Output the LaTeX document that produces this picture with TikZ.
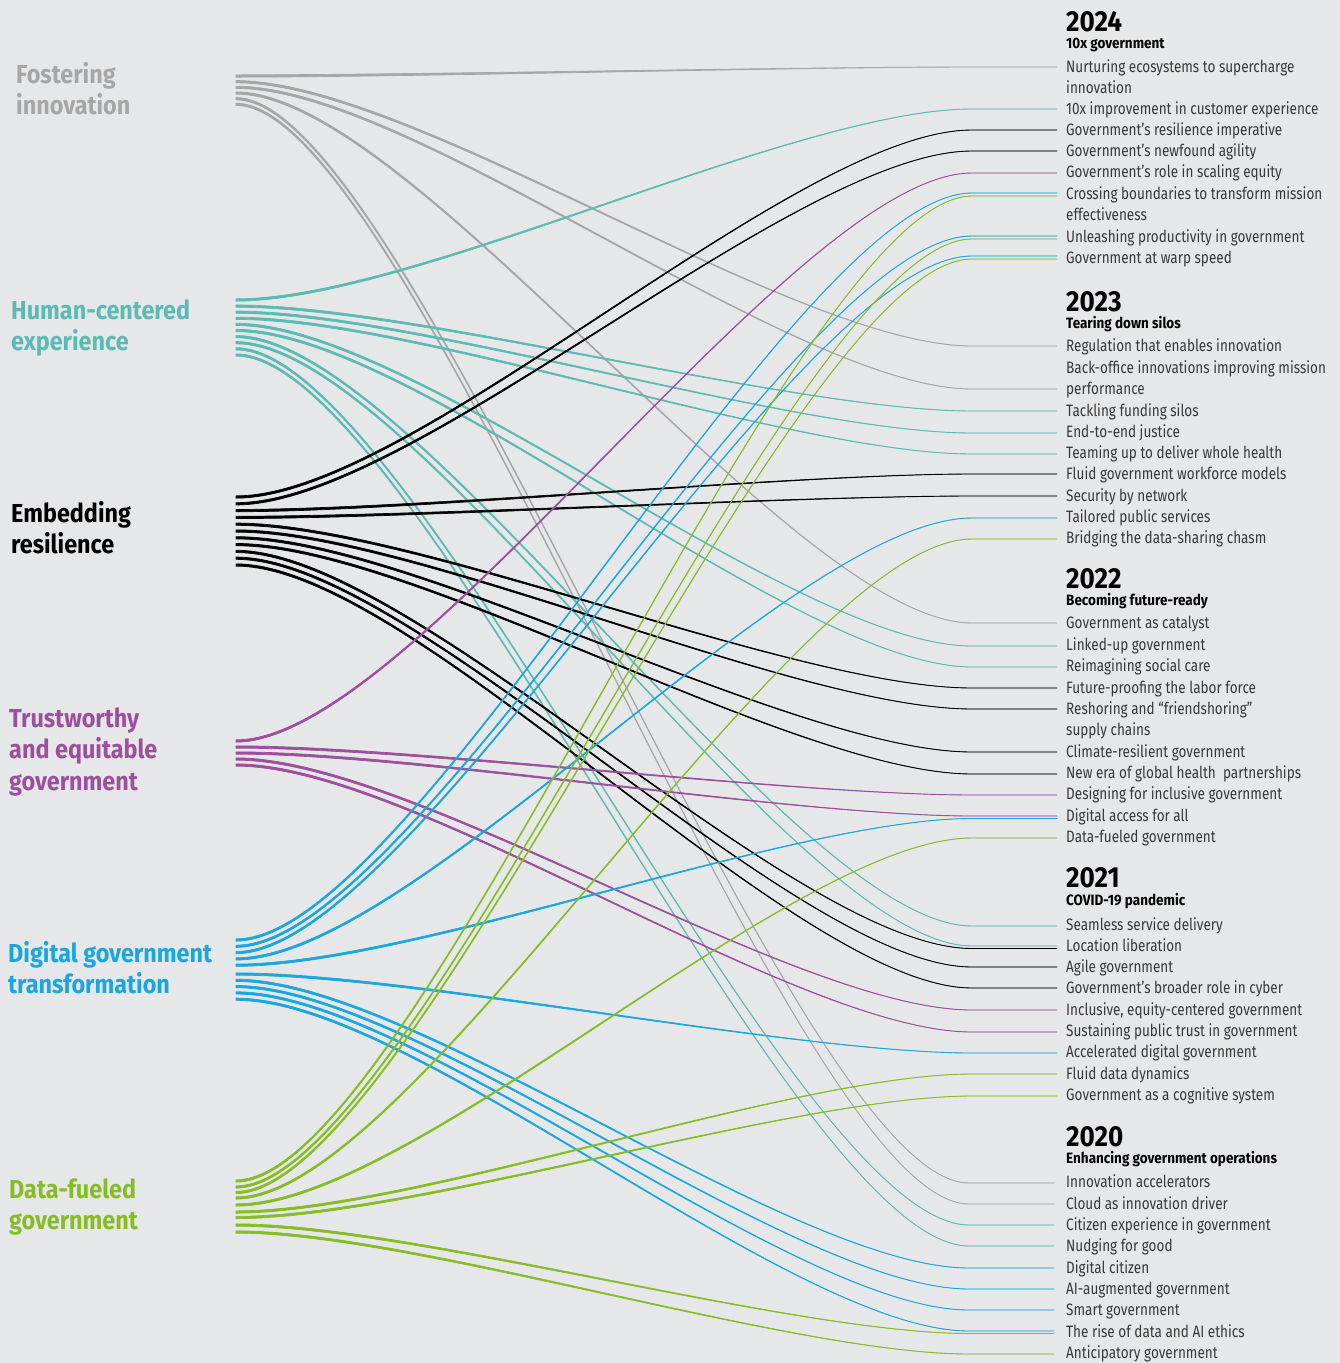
\documentclass[tikz,border=0pt]{standalone}
\usepackage{fontspec}
\usetikzlibrary{calc}
\newfontfamily\ffi{Fira Sans}[FakeStretch=0.82]
\newfontfamily\ffh{Fira Sans}[FakeStretch=0.9]
\definecolor{bg}{HTML}{E6E7E8}
\definecolor{cgray}{HTML}{A6A6A6}
\definecolor{cteal}{HTML}{5CBAB5}
\definecolor{cblack}{HTML}{000000}
\definecolor{cpurple}{HTML}{9E4E9E}
\definecolor{cblue}{HTML}{1AA6DF}
\definecolor{cgreen}{HTML}{86BC25}
\definecolor{ctext}{HTML}{383838}
\newcommand\flow[3]{%
  \path[fill=#1, draw=#1, line width=0.7pt, line join=round]
    let \p1=(#2), \p2=(#3) in
    (\x1,\y1+1.15pt) .. controls (\x1+177pt,\y1+1.15pt) and (\x2-262pt,\y2+0.1pt) .. (\x2-85pt,\y2+0.1pt)
    -- (\x2,\y2+0.1pt) -- (\x2,\y2-0.1pt) -- (\x2-85pt,\y2-0.1pt)
    .. controls (\x2-262pt,\y2-0.1pt) and (\x1+177pt,\y1-1.15pt) .. (\x1,\y1-1.15pt) -- cycle;}
\newcommand\twoline[2]{\vtop{\hbox{#1}\hbox{#2}}}
\newcommand\threeline[3]{\vtop{\hbox{#1}\hbox{#2}\hbox{#3}}}
\begin{document}
\begin{tikzpicture}[x=1pt,y=-1pt,
  lefthead/.style={anchor=base west, inner sep=0pt, font=\ffh\bfseries\fontsize{26}{31.5}\selectfont},
  item/.style={anchor=base west, inner sep=0pt, text=ctext, font=\ffi\fontsize{16.5}{21}\selectfont},
  year/.style={anchor=base west, inner sep=0pt, text=black, font=\ffh\bfseries\fontsize{29}{30}\selectfont},
  theme/.style={anchor=base west, inner sep=0pt, text=black, font=\ffh\bfseries\fontsize{15}{18}\selectfont}]
\fill[bg] (0,0) rectangle (1340,1363);
\useasboundingbox (0,0) rectangle (1340,1363);

% left headings
\node[lefthead, text=cgray] (hfost) at (16,83) {\twoline{Fostering}{innovation}};
\node[lefthead, text=cteal] (hhum) at (11,319) {\twoline{Human-centered}{experience}};
\node[lefthead, text=black] (hemb) at (11,522) {\twoline{Embedding}{resilience}};
\node[lefthead, text=cpurple] (htru) at (9,727) {\threeline{Trustworthy}{and equitable}{government}};
\node[lefthead, text=cblue] (hdig) at (8,962) {\twoline{Digital government}{transformation}};
\node[lefthead, text=cgreen] (hdat) at (9,1198) {\twoline{Data-fueled}{government}};

% left start coordinates
\foreach \n/\y in {1/76,2/81.7,3/87.3,4/93,5/98.7,6/104.3}
  \coordinate (G\n) at (236,\y);
\foreach \n/\y in {1/300,2/306.1,3/312.2,4/318.3,5/324.4,6/330.5,7/336.6,8/342.7,9/348.8,10/355}
  \coordinate (T\n) at (236,\y);
\foreach \n/\y in {1/497,2/503.8,3/510.6,4/517.4,5/524.2,6/531,7/537.8,8/544.6,9/551.4,10/558.2,11/565}
  \coordinate (K\n) at (236,\y);
\foreach \n/\y in {1/741,2/747,3/753,4/759,5/765}
  \coordinate (P\n) at (236,\y);
\foreach \n/\y in {1/940,2/946.3,3/952.6,4/958.9,5/965.2,6/974,7/980.3,8/986.6,9/992.9,10/999.2}
  \coordinate (B\n) at (236,\y);
\foreach \n/\y in {1/1181,2/1187,3/1192.5,4/1198,5/1205,6/1212,7/1217.5,8/1225,9/1232}
  \coordinate (D\n) at (236,\y);

% right end coordinates
\foreach \n/\y in {nurt/67,tenx/109,resil/130,agil/151,equit/173,crossB/193,crossG/196,unlB/236,unlG/239,warpB/256,warpG/259,
  regul/346,backo/389,tackl/411,endto/433,teamu/454,fluidw/474,secur/496,tailo/518,bridg/539,
  catal/623,linke/646,reima/667,futur/688,resho/709,clima/752,newer/774,desig/795,digaP/816,digaB/818.5,dataf/838,
  seaml/926,locT/946,locK/948.5,agile/967,cyber/988,inclu/1010,susta/1032,accel/1053,fluidd/1074,cogni/1096}
  \coordinate (\n) at (1057,\y);
\foreach \n/\y in {innov/1183,cloud/1204,citiz/1225,nudg/1246,digc/1268,aiaug/1289,smart/1310,riseB/1331,riseG/1333.5,antic/1354}
  \coordinate (\n) at (1054,\y);

% flows
\foreach \s/\e in {G1/nurt,G2/regul,G3/backo,G4/catal,G5/innov,G6/cloud}
  {\flow{cgray}{\s}{\e}}
\foreach \s/\e in {T1/tenx,T2/tackl,T3/endto,T4/teamu,T5/linke,T6/reima,T7/seaml,T8/locT,T9/citiz,T10/nudg}
  {\flow{cteal}{\s}{\e}}
\foreach \s/\e in {K1/resil,K2/agil,K3/fluidw,K4/secur,K5/futur,K6/resho,K7/clima,K8/newer,K9/locK,K10/agile,K11/cyber}
  {\flow{cblack}{\s}{\e}}
\foreach \s/\e in {P1/equit,P2/desig,P3/digaP,P4/inclu,P5/susta}
  {\flow{cpurple}{\s}{\e}}
\foreach \s/\e in {B1/crossB,B2/unlB,B3/warpB,B4/tailo,B5/digaB,B6/accel,B7/digc,B8/aiaug,B9/smart,B10/riseB}
  {\flow{cblue}{\s}{\e}}
\foreach \s/\e in {D1/crossG,D2/unlG,D3/warpG,D4/bridg,D5/dataf,D6/fluidd,D7/cogni,D8/riseG,D9/antic}
  {\flow{cgreen}{\s}{\e}}

% 2024
\node[year] (y2024) at (1066,31) {2024};
\node[theme] (t2024) at (1066,48) {10x government};
\node[item] (l-nurt) at (1066,72.5) {\twoline{Nurturing ecosystems to supercharge}{innovation}};
\node[item] (l-tenx) at (1066,114) {10x improvement in customer experience};
\node[item] (l-resil) at (1066,135.5) {Government’s resilience imperative};
\node[item] (l-agil) at (1066,156.5) {Government’s newfound agility};
\node[item] (l-equit) at (1066,177.5) {Government’s role in scaling equity};
\node[item] (l-cross) at (1066,199) {\twoline{Crossing boundaries to transform mission}{effectiveness}};
\node[item] (l-unl) at (1066,242) {Unleashing productivity in government};
\node[item] (l-warp) at (1066,263) {Government at warp speed};
% 2023
\node[year] (y2023) at (1066,311) {2023};
\node[theme] (t2023) at (1066,328) {Tearing down silos};
\node[item] (l-regul) at (1066,351.5) {Regulation that enables innovation};
\node[item] (l-backo) at (1066,373) {\twoline{Back-office innovations improving mission}{performance}};
\node[item] (l-tackl) at (1066,416) {Tackling funding silos};
\node[item] (l-endto) at (1066,437) {End-to-end justice};
\node[item] (l-teamu) at (1066,458.5) {Teaming up to deliver whole health};
\node[item] (l-fluidw) at (1066,479.5) {Fluid government workforce models};
\node[item] (l-secur) at (1066,501) {Security by network};
\node[item] (l-tailo) at (1066,522.5) {Tailored public services};
\node[item] (l-bridg) at (1066,543.5) {Bridging the data-sharing chasm};
% 2022
\node[year] (y2022) at (1066,588) {2022};
\node[theme] (t2022) at (1066,605) {Becoming future-ready};
\node[item] (l-catal) at (1066,628) {Government as catalyst};
\node[item] (l-linke) at (1066,650) {Linked-up government};
\node[item] (l-reima) at (1066,671) {Reimagining social care};
\node[item] (l-futur) at (1066,693) {Future-proofing the labor force};
\node[item] (l-resho) at (1066,714) {\twoline{Reshoring and “friendshoring”}{supply chains}};
\node[item] (l-clima) at (1066,757) {Climate-resilient government};
\node[item] (l-newer) at (1066,778) {New era of global health\ \ partnerships};
\node[item] (l-desig) at (1066,799.5) {Designing for inclusive government};
\node[item] (l-diga) at (1066,821) {Digital access for all};
\node[item] (l-dataf) at (1066,842) {Data-fueled government};
% 2021
\node[year] (y2021) at (1066,887) {2021};
\node[theme] (t2021) at (1066,905) {COVID-19 pandemic};
\node[item] (l-seaml) at (1066,930) {Seamless service delivery};
\node[item] (l-loc) at (1066,951) {Location liberation};
\node[item] (l-agile) at (1066,972.5) {Agile government};
\node[item] (l-cyber) at (1066,993.5) {Government’s broader role in cyber};
\node[item] (l-inclu) at (1066,1015) {Inclusive, equity-centered government};
\node[item] (l-susta) at (1066,1036.5) {Sustaining public trust in government};
\node[item] (l-accel) at (1066,1057.5) {Accelerated digital government};
\node[item] (l-fluidd) at (1066,1079) {Fluid data dynamics};
\node[item] (l-cogni) at (1066,1100.5) {Government as a cognitive system};
% 2020
\node[year] (y2020) at (1066,1146) {2020};
\node[theme] (t2020) at (1066,1163) {Enhancing government operations};
\node[item] (l-innov) at (1066,1187.5) {Innovation accelerators};
\node[item] (l-cloud) at (1066,1209) {Cloud as innovation driver};
\node[item] (l-citiz) at (1066,1230) {Citizen experience in government};
\node[item] (l-nudg) at (1066,1251.5) {Nudging for good};
\node[item] (l-digc) at (1066,1273) {Digital citizen};
\node[item] (l-aiaug) at (1066,1294) {AI-augmented government};
\node[item] (l-smart) at (1066,1315) {Smart government};
\node[item] (l-rise) at (1066,1337) {The rise of data and AI ethics};
\node[item] (l-antic) at (1066,1358) {Anticipatory government};
\end{tikzpicture}
\end{document}
